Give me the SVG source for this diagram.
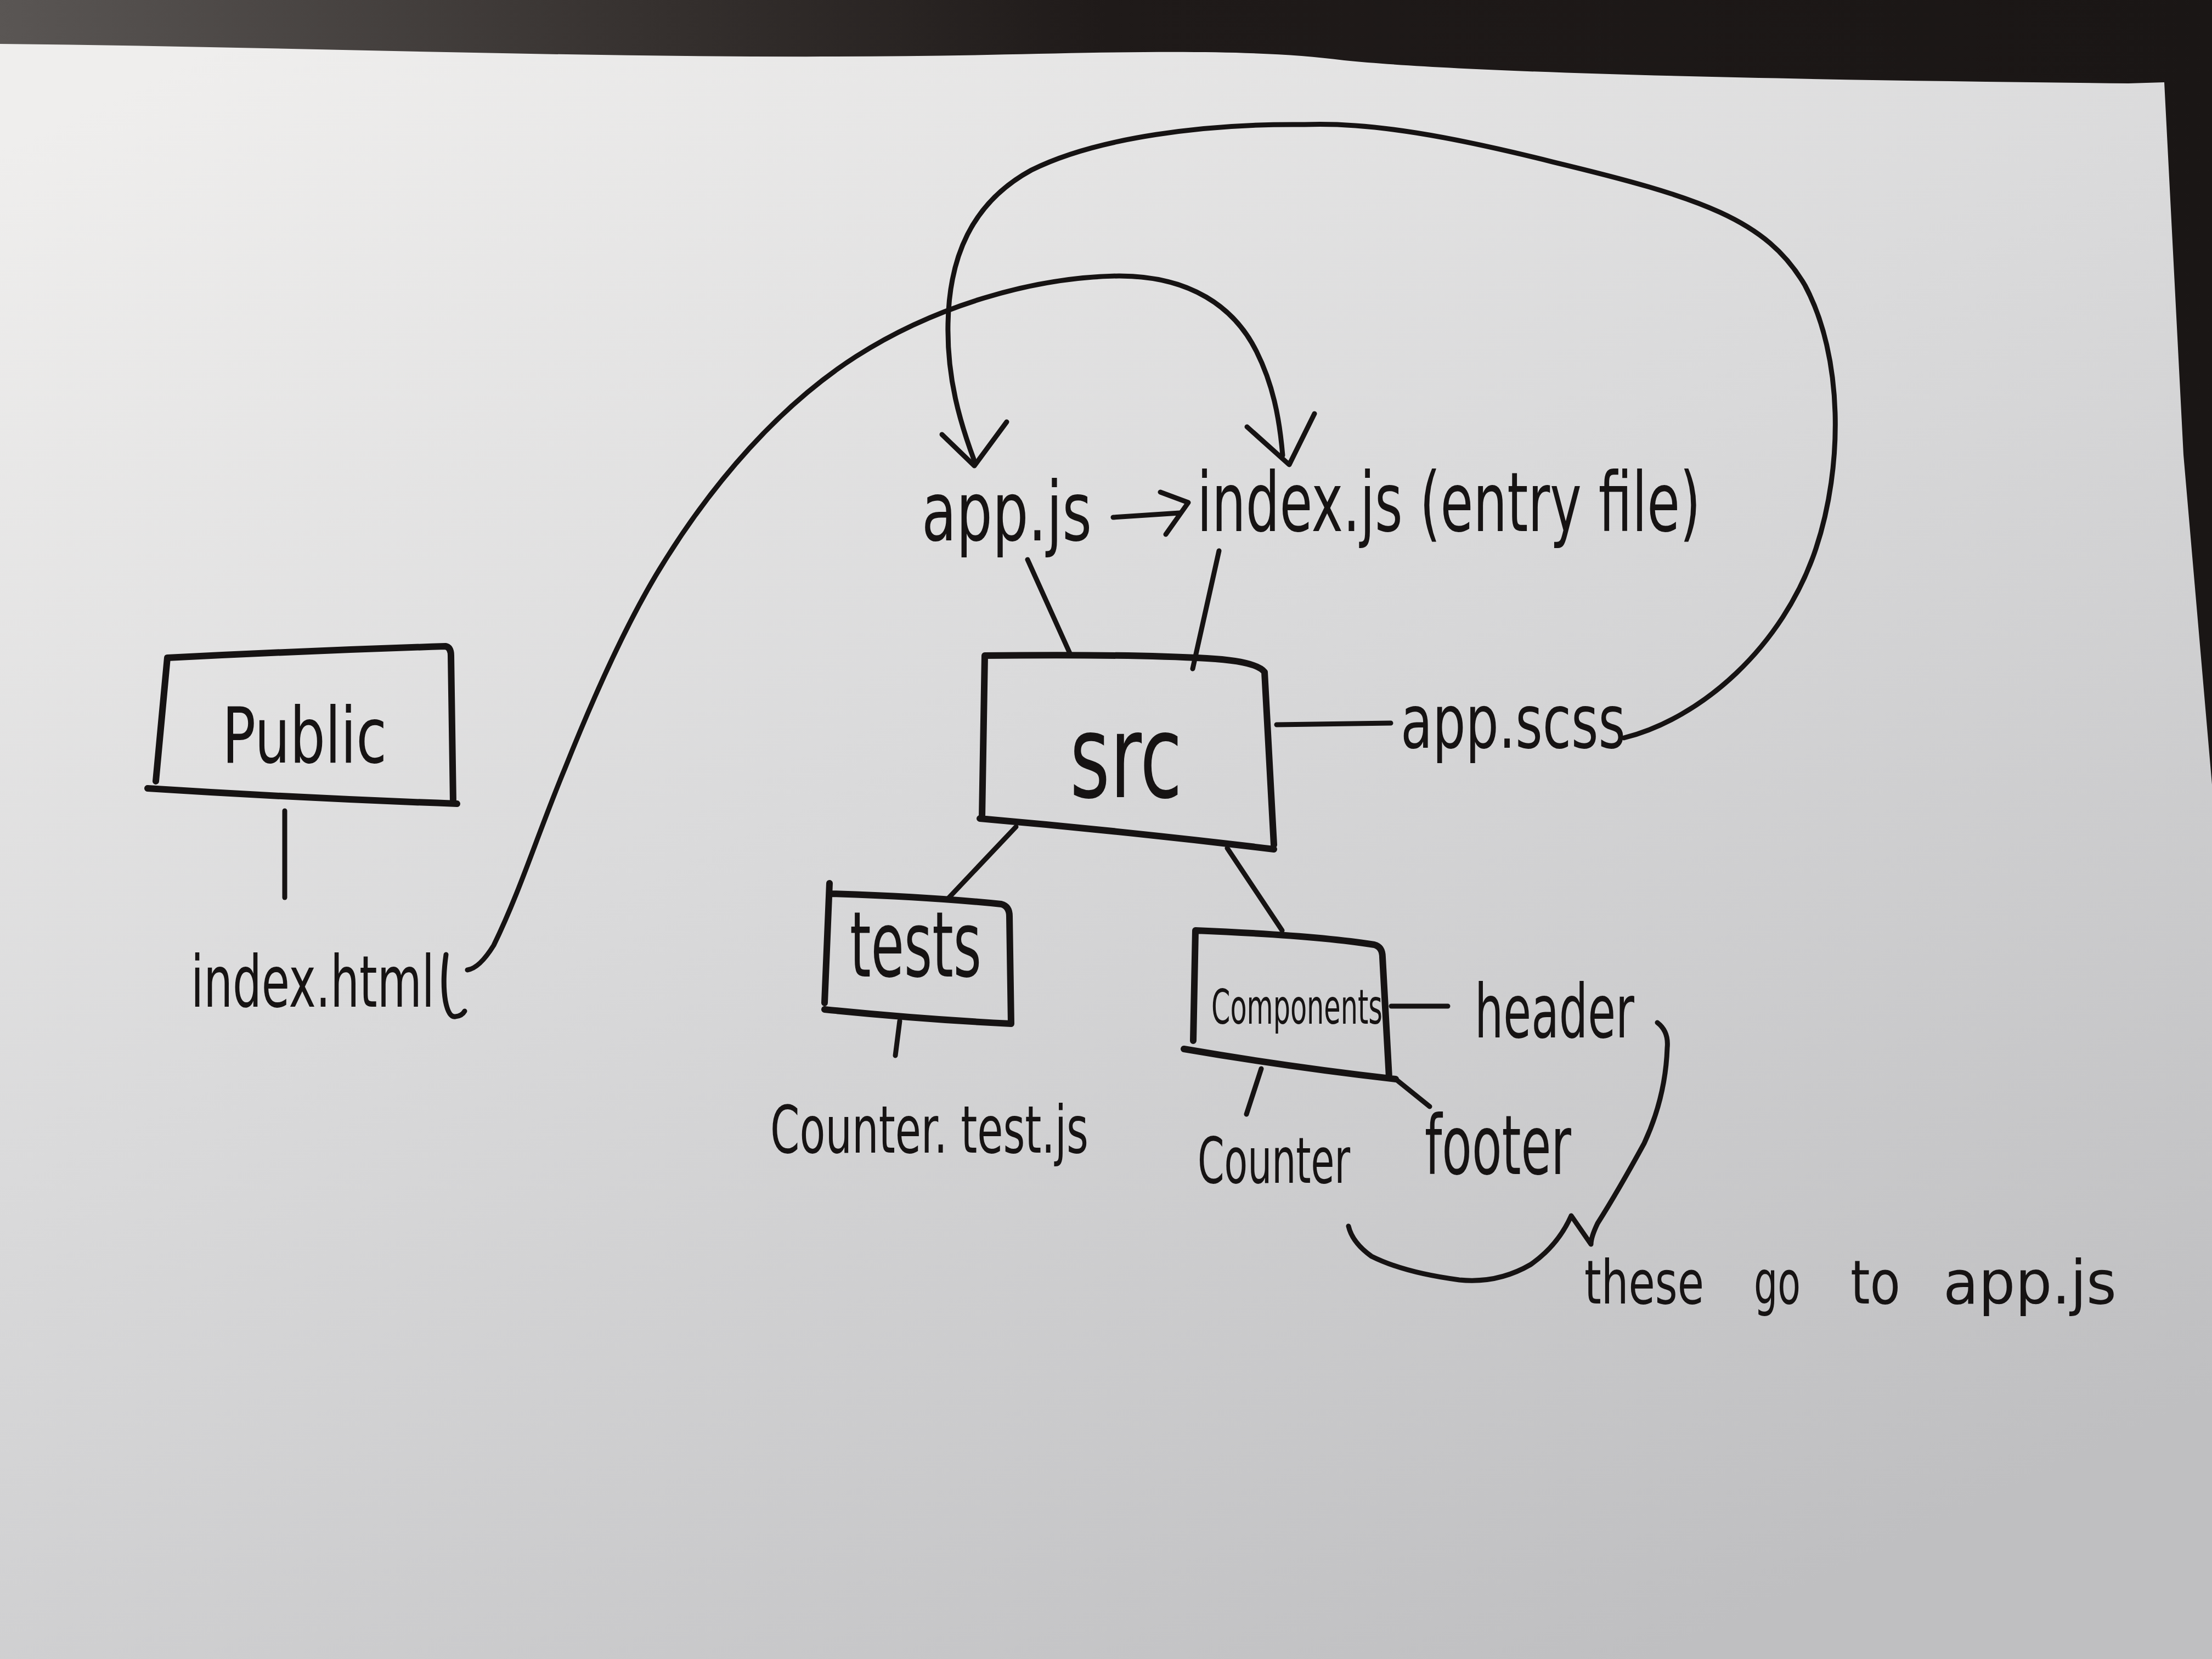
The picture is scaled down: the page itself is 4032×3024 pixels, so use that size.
<svg xmlns="http://www.w3.org/2000/svg" width="4032" height="3024" viewBox="0 0 4032 3024">
<defs>
<linearGradient id="wood" x1="0" y1="0" x2="1" y2="0">
<stop offset="0" stop-color="#5a5654"/>
<stop offset="0.3" stop-color="#35302e"/>
<stop offset="0.5" stop-color="#1f1a19"/>
<stop offset="1" stop-color="#1a1615"/>
</linearGradient>
<linearGradient id="paper" x1="0.1" y1="0" x2="0.75" y2="1">
<stop offset="0" stop-color="#efeeed"/>
<stop offset="0.45" stop-color="#dadadb"/>
<stop offset="1" stop-color="#bfbfc1"/>
</linearGradient>
</defs>
<style>
.ink{fill:none;stroke:#161313;stroke-width:9;stroke-linecap:round;stroke-linejoin:round}
.box{fill:none;stroke:#161313;stroke-width:12;stroke-linecap:round;stroke-linejoin:round}
.t{fill:#161313;font-family:"Liberation Sans Narrow","DejaVu Sans Condensed","Liberation Sans",sans-serif}
</style>
<rect x="0" y="0" width="4032" height="3024" fill="url(#wood)"/>
<path d="M 0 80 C 600 86 1200 112 1800 100 C 2100 93 2300 90 2450 110 C 2700 135 3300 146 3880 152 L 3945 150 L 3980 829 L 4032 1430 L 4032 3024 L 0 3024 Z" fill="url(#paper)"/>

<g id="connectors">
<path class="ink" d="M 2960 1345 C 3100 1310 3250 1180 3310 1000 C 3360 850 3360 650 3290 520 C 3220 400 3100 360 2830 295 C 2650 250 2500 222 2378 227 C 2200 225 2000 250 1880 310 C 1770 370 1730 470 1728 590 C 1726 690 1750 770 1776 840"/>
<path class="ink" d="M 1717 792 L 1776 849 L 1835 769"/>
<path class="ink" d="M 852 1768 C 866 1766 882 1752 900 1723 C 950 1620 980 1520 1030 1400 C 1090 1250 1150 1120 1210 1025 C 1300 880 1420 740 1560 650 C 1700 560 1880 505 2040 503 C 2170 503 2250 560 2290 640 C 2320 700 2332 760 2338 830"/>
<path class="ink" d="M 2273 778 L 2350 847 L 2396 754"/>
<path class="ink" d="M 813 1740 Q 806 1790 812 1825 Q 818 1855 830 1853 Q 842 1852 847 1843"/>
<path class="ink" d="M 2029 943 L 2150 935 M 2115 897 L 2166 916 L 2125 974"/>
<path class="ink" d="M 519 1478 L 519 1636"/>
<path class="ink" d="M 1873 1020 L 1952 1195"/>
<path class="ink" d="M 2222 1004 L 2174 1219"/>
<path class="ink" d="M 2327 1321 L 2535 1318"/>
<path class="ink" d="M 1852 1507 L 1727 1639"/>
<path class="ink" d="M 2237 1546 L 2337 1696"/>
<path class="ink" d="M 1640 1861 L 1632 1924"/>
<path class="ink" d="M 2536 1834 L 2639 1834"/>
<path class="ink" d="M 2299 1948 L 2272 2031"/>
<path class="ink" d="M 2544 1967 L 2606 2017"/>
<path class="ink" d="M 3021 1864 Q 3042 1880 3039 1910 Q 3036 2000 2997 2084 Q 2950 2170 2912 2230 Q 2900 2255 2900 2268 L 2864 2216 Q 2840 2270 2790 2305 Q 2730 2340 2660 2333 Q 2560 2320 2500 2290 Q 2465 2265 2458 2235"/>
</g>

<g id="public">
<path class="box" d="M 284 1424 L 305 1199 Q 560 1186 812 1178 Q 822 1180 822 1195 L 826 1462 M 269 1437 Q 550 1455 833 1465"/>
<text class="t" x="405" y="1390" font-size="140" textLength="300" lengthAdjust="spacingAndGlyphs">Public</text>
</g>
<g id="index-html">
<text class="t" x="348" y="1835" font-size="130" textLength="444" lengthAdjust="spacingAndGlyphs">index.html</text>
</g>
<g id="app-js">
<text class="t" x="1680" y="985" font-size="150" textLength="310" lengthAdjust="spacingAndGlyphs">app.js</text>
</g>
<g id="index-js">
<text class="t" x="2182" y="968" font-size="150" textLength="918" lengthAdjust="spacingAndGlyphs">index.js (entry file)</text>
</g>
<g id="src">
<path class="box" d="M 1790 1490 L 1795 1195 Q 2050 1192 2200 1200 Q 2290 1205 2305 1225 L 2322 1540 M 1786 1492 Q 2050 1515 2322 1548"/>
<text class="t" x="1950" y="1453" font-size="210" textLength="205" lengthAdjust="spacingAndGlyphs">src</text>
</g>
<g id="app-scss">
<text class="t" x="2553" y="1363" font-size="135" textLength="410" lengthAdjust="spacingAndGlyphs">app.scss</text>
</g>
<g id="tests">
<path class="box" d="M 1503 1828 L 1512 1610 M 1516 1629 Q 1700 1635 1825 1648 Q 1840 1652 1840 1670 L 1843 1866 M 1503 1840 Q 1680 1858 1843 1866"/>
<text class="t" x="1549" y="1780" font-size="165" textLength="240" lengthAdjust="spacingAndGlyphs">tests</text>
</g>
<g id="counter-test">
<text class="t" x="1404" y="2101" font-size="120" textLength="580" lengthAdjust="spacingAndGlyphs">Counter. test.js</text>
</g>
<g id="components">
<path class="box" d="M 2175 1897 L 2179 1696 Q 2400 1705 2505 1722 Q 2520 1726 2520 1745 L 2532 1964 M 2158 1912 Q 2350 1945 2544 1967"/>
<text class="t" x="2208" y="1866" font-size="88" textLength="312" lengthAdjust="spacingAndGlyphs">Components</text>
</g>
<g id="header">
<text class="t" x="2688" y="1891" font-size="135" textLength="291" lengthAdjust="spacingAndGlyphs">header</text>
</g>
<g id="counter">
<text class="t" x="2183" y="2156" font-size="115" textLength="278" lengthAdjust="spacingAndGlyphs">Counter</text>
</g>
<g id="footer">
<text class="t" x="2597" y="2140" font-size="150" textLength="267" lengthAdjust="spacingAndGlyphs">footer</text>
</g>
<g id="note">
<text class="t" y="2376" font-size="110"><tspan x="2888" textLength="218" lengthAdjust="spacingAndGlyphs">these</tspan><tspan x="3197" textLength="85" lengthAdjust="spacingAndGlyphs">go</tspan><tspan x="3373" textLength="91" lengthAdjust="spacingAndGlyphs">to</tspan><tspan x="3542" textLength="316" lengthAdjust="spacingAndGlyphs">app.js</tspan></text>
</g>
</svg>
